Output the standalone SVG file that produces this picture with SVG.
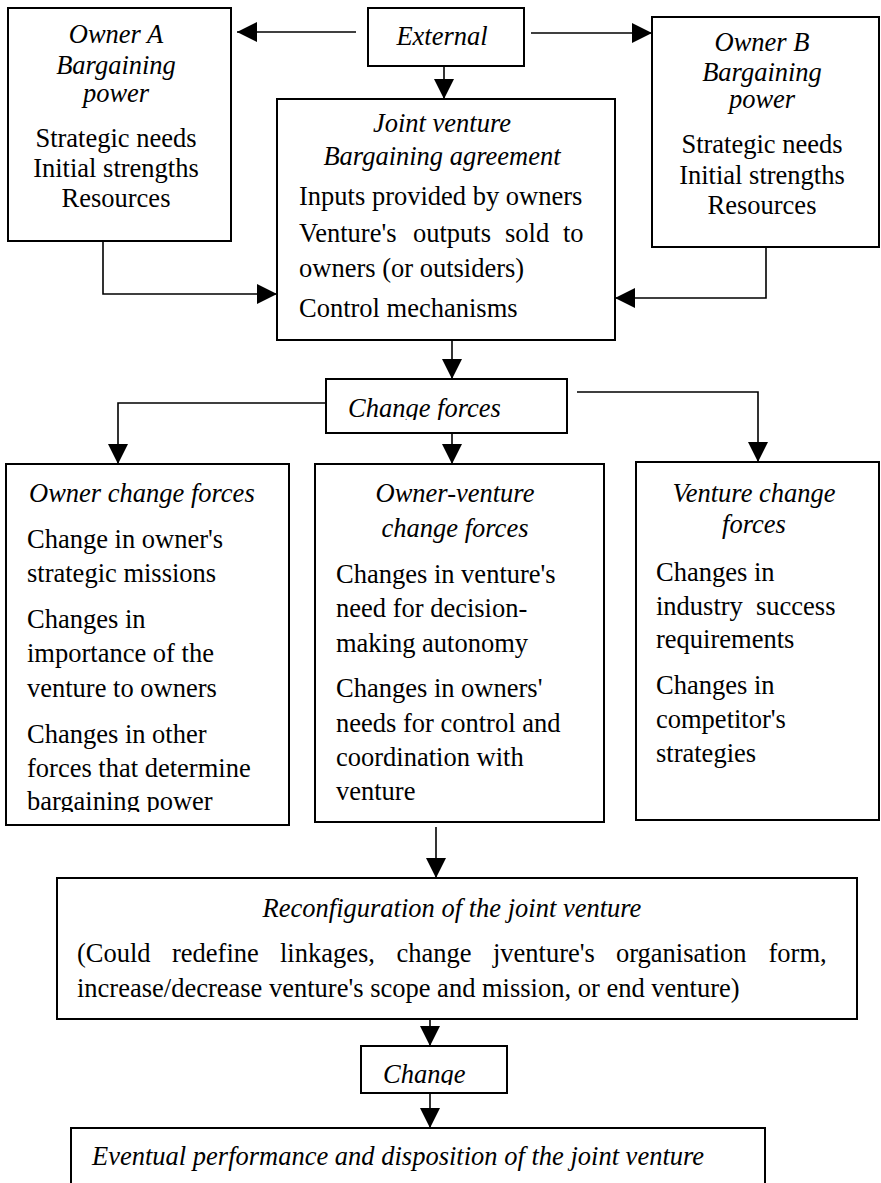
<svg xmlns="http://www.w3.org/2000/svg" width="881" height="1183" viewBox="0 0 881 1183">
<style>
.box{fill:#fff;stroke:#000;stroke-width:2}
.t{font-family:"Liberation Serif","Times New Roman",serif;font-size:26.5px;fill:#000}
.i{font-style:italic}
.m{text-anchor:middle}
.c{fill:none;stroke:#000;stroke-width:1.6}
</style>
<defs>
<marker id="ah" markerUnits="userSpaceOnUse" markerWidth="20" markerHeight="20" refX="20" refY="10" orient="auto">
<path d="M0,0 L20,10 L0,20 z" fill="#000"/>
</marker>
<clipPath id="clipCF"><rect x="326" y="379" width="241" height="41"/></clipPath>
<clipPath id="clipOC"><rect x="6" y="464" width="283" height="348"/></clipPath>
<clipPath id="clipCh"><rect x="361" y="1046" width="146" height="39"/></clipPath>
</defs>
<rect width="881" height="1183" fill="#fff"/>

<g id="connectors">
<path class="c" d="M356,32 H237" marker-end="url(#ah)"/>
<path class="c" d="M531,33 H652" marker-end="url(#ah)"/>
<path class="c" d="M444,66 V99" marker-end="url(#ah)"/>
<path class="c" d="M103,241 V294 H277" marker-end="url(#ah)"/>
<path class="c" d="M766,247 V298 H615" marker-end="url(#ah)"/>
<path class="c" d="M452,340 V379" marker-end="url(#ah)"/>
<path class="c" d="M326,403 H118 V464" marker-end="url(#ah)"/>
<path class="c" d="M452,433 V464" marker-end="url(#ah)"/>
<path class="c" d="M577,392 H758 V462" marker-end="url(#ah)"/>
<path class="c" d="M436,827 V878" marker-end="url(#ah)"/>
<path class="c" d="M430,1019 V1046" marker-end="url(#ah)"/>
<path class="c" d="M430,1093 V1128" marker-end="url(#ah)"/>
</g>

<g id="owner-a">
<rect class="box" x="8" y="8" width="223" height="233"/>
<text class="t i m" x="116" y="43">Owner A</text>
<text class="t i m" x="116" y="74">Bargaining</text>
<text class="t i m" x="116" y="102">power</text>
<text class="t m" x="116" y="147">Strategic needs</text>
<text class="t m" x="116" y="177">Initial strengths</text>
<text class="t m" x="116" y="207">Resources</text>
</g>

<g id="external">
<rect class="box" x="368" y="8" width="156" height="58"/>
<text class="t i m" x="442" y="45">External</text>
</g>

<g id="owner-b">
<rect class="box" x="652" y="17" width="227" height="230"/>
<text class="t i m" x="762" y="51">Owner B</text>
<text class="t i m" x="762" y="80.5">Bargaining</text>
<text class="t i m" x="762" y="108">power</text>
<text class="t m" x="762" y="153">Strategic needs</text>
<text class="t m" x="762" y="184">Initial strengths</text>
<text class="t m" x="762" y="214">Resources</text>
</g>

<g id="joint-venture">
<rect class="box" x="277" y="99" width="338" height="241"/>
<text class="t i m" x="442" y="132">Joint venture</text>
<text class="t i m" x="442" y="165">Bargaining agreement</text>
<text class="t" x="299" y="205">Inputs provided by owners</text>
<text class="t" y="242"><tspan x="299">Venture's</tspan><tspan x="413">outputs</tspan><tspan x="505">sold</tspan><tspan x="563">to</tspan></text>
<text class="t" x="299" y="277">owners (or outsiders)</text>
<text class="t" x="299" y="317">Control mechanisms</text>
</g>

<g id="change-forces">
<rect class="box" x="326" y="379" width="241" height="54"/>
<text class="t i" x="348" y="417" clip-path="url(#clipCF)">Change forces</text>
</g>

<g id="owner-change-forces">
<rect class="box" x="6" y="464" width="283" height="361"/>
<text class="t i" x="29" y="502">Owner change forces</text>
<g clip-path="url(#clipOC)">
<text class="t" x="27" y="548">Change in owner's</text>
<text class="t" x="27" y="582">strategic missions</text>
<text class="t" x="27" y="628">Changes in</text>
<text class="t" x="27" y="662">importance of the</text>
<text class="t" x="27" y="697">venture to owners</text>
<text class="t" x="27" y="743">Changes in other</text>
<text class="t" x="27" y="777">forces that determine</text>
<text class="t" x="27" y="810">bargaining power</text>
</g>
</g>

<g id="owner-venture-change-forces">
<rect class="box" x="315" y="464" width="289" height="358"/>
<text class="t i m" x="455" y="502">Owner-venture</text>
<text class="t i m" x="455" y="537">change forces</text>
<text class="t" x="336" y="583">Changes in venture's</text>
<text class="t" x="336" y="617">need for decision-</text>
<text class="t" x="336" y="652">making autonomy</text>
<text class="t" x="336" y="697">Changes in owners'</text>
<text class="t" x="336" y="732">needs for control and</text>
<text class="t" x="336" y="766">coordination with</text>
<text class="t" x="336" y="800">venture</text>
</g>

<g id="venture-change-forces">
<rect class="box" x="636" y="462" width="243" height="358"/>
<text class="t i m" x="754" y="502">Venture change</text>
<text class="t i m" x="754" y="533">forces</text>
<text class="t" x="656" y="581">Changes in</text>
<text class="t" y="615"><tspan x="656">industry</tspan><tspan x="756">success</tspan></text>
<text class="t" x="656" y="648">requirements</text>
<text class="t" x="656" y="694">Changes in</text>
<text class="t" x="656" y="728">competitor's</text>
<text class="t" x="656" y="762">strategies</text>
</g>

<g id="reconfiguration">
<rect class="box" x="57" y="878" width="800" height="141"/>
<text class="t i m" x="452" y="917">Reconfiguration of the joint venture</text>
<text class="t" y="962"><tspan x="77">(Could</tspan><tspan x="172">redefine</tspan><tspan x="280">linkages,</tspan><tspan x="396.5">change</tspan><tspan x="493">jventure's</tspan><tspan x="616">organisation</tspan><tspan x="768.5">form,</tspan></text>
<text class="t" x="77" y="997">increase/decrease venture's scope and mission, or end venture)</text>
</g>

<g id="change">
<rect class="box" x="361" y="1046" width="146" height="47"/>
<text class="t i" x="383" y="1083" clip-path="url(#clipCh)">Change</text>
</g>

<g id="eventual">
<rect class="box" x="71" y="1128" width="694" height="80"/>
<text class="t i" x="92" y="1165">Eventual performance and disposition of the joint venture</text>
</g>
</svg>
